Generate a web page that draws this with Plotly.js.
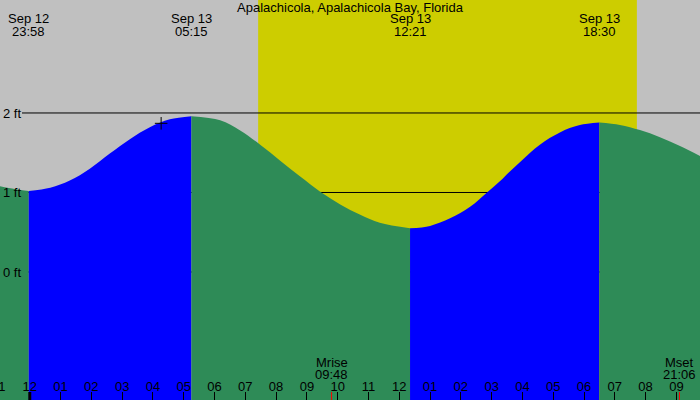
<!DOCTYPE html>
<html>
<head>
<meta charset="utf-8">
<script src="https://cdn.plot.ly/plotly-3.0.1.min.js"></script>
<style>
html, body { margin: 0; padding: 0; background: #c0c0c0; }
#chart { width: 700px; height: 400px; }
</style>
</head>
<body>
<div id="chart"></div>
<script>
// Tide extremes (high / low) for the day.
const extremeTimes = ['2025-09-12 23:58', '2025-09-13 05:15', '2025-09-13 12:21', '2025-09-13 18:30'];
const extremeHeights = [1.02, 1.96, 0.55, 1.88];
const extremeDays = ['Sep 12', 'Sep 13', 'Sep 13', 'Sep 13'];
const extremeClocks = ['23:58', '05:15', '12:21', '18:30'];

// Tide heights (ft).
const readTimes = ['2025-09-12 23:02', '2025-09-12 23:31',
  '2025-09-13 00:40', '2025-09-13 01:18', '2025-09-13 01:57', '2025-09-13 02:36',
  '2025-09-13 03:15', '2025-09-13 03:54', '2025-09-13 04:33',
  '2025-09-13 06:11', '2025-09-13 06:50', '2025-09-13 07:29', '2025-09-13 08:08',
  '2025-09-13 08:47', '2025-09-13 09:26', '2025-09-13 10:05', '2025-09-13 10:44',
  '2025-09-13 11:22',
  '2025-09-13 13:00', '2025-09-13 13:39', '2025-09-13 14:18', '2025-09-13 14:51',
  '2025-09-13 15:16', '2025-09-13 15:35', '2025-09-13 15:55', '2025-09-13 16:15',
  '2025-09-13 16:34', '2025-09-13 16:53', '2025-09-13 17:13', '2025-09-13 17:32',
  '2025-09-13 17:52',
  '2025-09-13 19:10', '2025-09-13 19:49', '2025-09-13 20:28', '2025-09-13 21:07',
  '2025-09-13 21:46'];
const readHeights = [1.08, 1.045,
  1.06, 1.15, 1.30, 1.49,
  1.67, 1.82, 1.92,
  1.91, 1.78, 1.60, 1.40,
  1.20, 1.01, 0.85, 0.72,
  0.62,
  0.58, 0.675, 0.82, 1.00,
  1.14, 1.26, 1.38, 1.50,
  1.60, 1.685, 1.755, 1.81,
  1.85,
  1.85, 1.785, 1.695, 1.585,
  1.46];

// Current time marker.
const nowTime = ['2025-09-13 04:16'];
const nowHeight = [1.87];

// Sun and moon.
const sunrise = '2025-09-13 07:25';
const sunset = '2025-09-13 19:43';
const moonNames = ['Mrise', 'Mset'];
const moonTimes = ['2025-09-13 09:48', '2025-09-13 21:06'];
const moonClocks = ['09:48', '21:06'];

const heightTicks = [0, 1, 2];
const heightLabels = ['0 ft', '1 ft', '2 ft'];
const midnight = '2025-09-13 00:00';
// hour just left of the window, its label is cut by the edge
const edgeHour = '2025-09-12 23:00';
const edgeLabel = '11';

const xRange = ['2025-09-12 23:02', '2025-09-13 21:46'];
const yRange = [-1.61, 3.421];
const floor = yRange[0];

const font = {family: 'Liberation Sans, Arial, sans-serif', size: 13, color: '#000'};

function ms(t) { return Date.parse(t.replace(' ', 'T')); }

// Merge readings and extremes, then cut the curve at every extreme.
let pts = readTimes.map((t, i) => ({t: t, h: readHeights[i], ext: false}))
  .concat(extremeTimes.map((t, i) => ({t: t, h: extremeHeights[i], ext: true})));
pts.sort((a, b) => a.t < b.t ? -1 : 1);

let segs = [[]];
pts.forEach(p => {
  segs[segs.length-1].push(p);
  if (p.ext) segs.push([p]);
});

let traces = [];
segs.forEach(seg => {
  if (seg.length < 2) return;
  let rising = seg[seg.length-1].h > seg[0].h;
  // invisible floor for the fill
  traces.push({
    x: [seg[0].t, seg[seg.length-1].t],
    y: [floor, floor],
    mode: 'lines',
    line: {width: 0},
    hoverinfo: 'skip'
  });
  traces.push({
    x: seg.map(p => p.t),
    y: seg.map(p => p.h),
    mode: 'lines',
    line: {width: 0, shape: 'spline'},
    fill: 'tonexty',
    fillcolor: rising ? '#0000ff' : '#2e8b57',
    hoverinfo: 'skip'
  });
});

traces.push({
  x: nowTime,
  y: nowHeight,
  mode: 'markers',
  marker: {symbol: 'cross-thin', size: 9, line: {color: '#000', width: 1}},
  hoverinfo: 'skip'
});

let shapes = [{
  type: 'rect', xref: 'x', yref: 'paper',
  x0: sunrise, x1: sunset, y0: 0, y1: 1,
  fillcolor: '#cdcd00', line: {width: 0}, layer: 'below'
}];
heightTicks.forEach(v => {
  shapes.push({
    type: 'line', xref: 'paper', yref: 'y',
    x0: 22/700, x1: 1, y0: v, y1: v,
    line: {color: '#000', width: 1}, layer: 'below'
  });
});
shapes.push({
  type: 'line', xref: 'x', yref: 'paper',
  x0: midnight, x1: midnight, y0: 0, y1: 8/400,
  line: {color: '#000', width: 3}
});
moonTimes.forEach(t => {
  shapes.push({
    type: 'line', xref: 'x', yref: 'paper',
    x0: t, x1: t, y0: 0, y1: 8/400,
    line: {color: '#ff0000', width: 1}
  });
});

let annotations = [];
extremeTimes.forEach((t, i) => {
  annotations.push({x: t, y: 1-19/400, xref: 'x', yref: 'paper', text: extremeDays[i],
    showarrow: false, xanchor: 'center', yanchor: 'middle', font: font});
  annotations.push({x: t, y: 1-31/400, xref: 'x', yref: 'paper', text: extremeClocks[i],
    showarrow: false, xanchor: 'center', yanchor: 'middle', font: font});
});
moonTimes.forEach((t, i) => {
  annotations.push({x: t, y: 38/400, xref: 'x', yref: 'paper', text: moonNames[i],
    showarrow: false, xanchor: 'center', yanchor: 'middle', font: font});
  annotations.push({x: t, y: 26/400, xref: 'x', yref: 'paper', text: moonClocks[i],
    showarrow: false, xanchor: 'center', yanchor: 'middle', font: font});
});
// label of the hour tick sitting just outside the left edge
annotations.push({
  x: (ms(edgeHour) - ms(xRange[0])) / (ms(xRange[1]) - ms(xRange[0])),
  y: 14/400, xref: 'paper', yref: 'paper', text: edgeLabel,
  showarrow: false, xanchor: 'center', yanchor: 'middle', font: font
});

let layout = {
  width: 700,
  height: 400,
  margin: {l: 0, r: 0, t: 0, b: 0, pad: 0},
  paper_bgcolor: '#c0c0c0',
  plot_bgcolor: '#c0c0c0',
  showlegend: false,
  hovermode: false,
  font: font,
  title: {
    text: 'Apalachicola, Apalachicola Bay, Florida',
    font: font,
    x: 0.5, xanchor: 'center',
    y: 1-7/400, yanchor: 'middle'
  },
  xaxis: {
    type: 'date',
    range: xRange,
    tick0: midnight,
    dtick: 3600000,
    tickformat: '%I',
    ticks: 'inside',
    ticklen: 8,
    tickwidth: 1,
    tickcolor: '#000',
    ticklabelposition: 'inside',
    ticklabelstandoff: -2,
    tickfont: font,
    showgrid: false,
    zeroline: false,
    showline: false,
    fixedrange: true
  },
  yaxis: {
    range: yRange,
    tickvals: heightTicks,
    ticktext: heightLabels,
    ticks: '',
    ticklabelposition: 'inside',
    tickfont: font,
    showgrid: false,
    zeroline: false,
    showline: false,
    fixedrange: true
  },
  shapes: shapes,
  annotations: annotations
};

Plotly.newPlot('chart', traces, layout, {staticPlot: true, displayModeBar: false});
</script>
</body>
</html>
